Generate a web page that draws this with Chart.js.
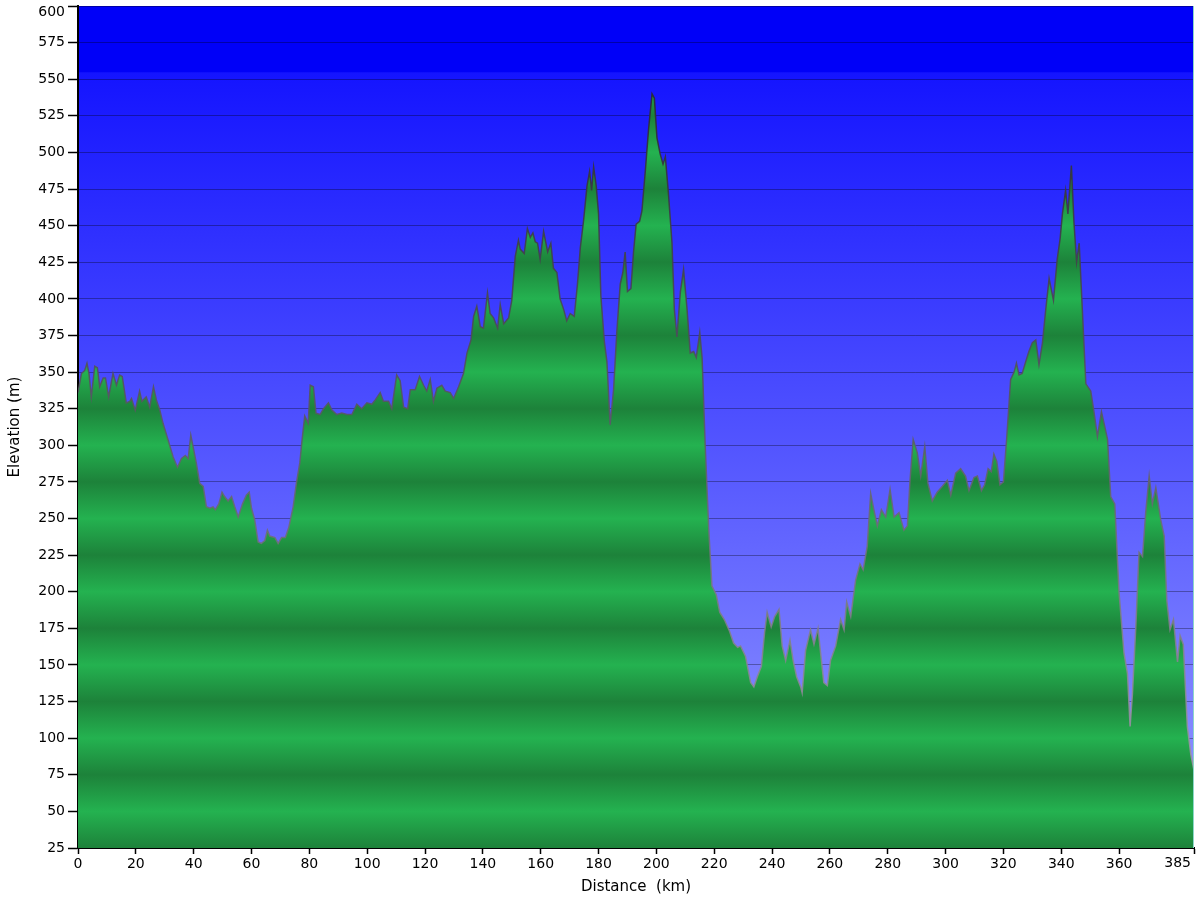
<!DOCTYPE html>
<html>
<head>
<meta charset="utf-8">
<script src="https://cdn.jsdelivr.net/npm/chart.js@4.4.1/dist/chart.umd.min.js"></script>
<style>
  html, body { margin: 0; padding: 0; background: #fff; }
  canvas { display: block; }
</style>
</head>
<body>
<canvas id="profile" width="1200" height="900"></canvas>
<script>
// elevation profile
const distanceKm = [
  0, 1.2, 2.3, 3.1, 3.8, 4.6, 5.8, 6.7, 7.5, 8.7, 9.5, 10.6, 12.1, 13.3, 14.4, 15.3, 16.7, 17.9, 18.5, 19.8,
  21.3, 22.1, 23.6, 24.8, 26.1, 27.1, 28.3, 29.4, 31.1, 32.9, 34.4, 35.8, 37.1, 38.1, 39, 39.8, 40.9, 42.1, 43.3, 44.4,
  45.6, 46.7, 47.5, 48.7, 49.8, 50.7, 51.9, 53.1, 54.2, 55.4, 56.9, 58.2, 59.2, 60, 61.1, 62.3, 63.4, 64.6, 65.5, 66.3,
  68.1, 69.2, 70.4, 71.7, 72.9, 74.4, 75.5, 76.7, 77.5, 78.4, 79.6, 80.3, 81.4, 82.3, 83.7, 84.9, 86.6, 87.8, 89.5, 91.2,
  93, 94.7, 96.4, 98.1, 99.9, 101.6, 102.8, 104.5, 105.6, 107.4, 108.5, 110.2, 111.4, 112.6, 114, 114.9, 116.6, 118.1, 119.5, 120.6,
  121.8, 122.9, 124.1, 125.8, 127, 128.7, 129.9, 131.6, 133.3, 134.5, 135.9, 136.8, 137.9, 139.1, 140.2, 141.6, 142.5, 143.7, 145.1, 146,
  147.2, 148.9, 150, 151.2, 152.3, 152.9, 154.3, 155.4, 156.4, 157.3, 158.1, 158.9, 159.8, 161, 162.4, 163.5, 164.4, 165.6, 166.7, 167.9,
  169, 170.2, 171.6, 172.7, 173.7, 174.8, 176, 176.9, 177.6, 178.3, 179.2, 180, 180.8, 182, 182.9, 184, 185.2, 186.3, 187.5, 188.4,
  189.2, 190, 191.2, 192.1, 193, 194.2, 195, 196.2, 197.3, 198.5, 199.3, 200.2, 201.3, 202.3, 203.1, 204.2, 205.4, 206.2, 207.1, 208.3,
  209.4, 210.6, 211.7, 212.9, 213.8, 215, 215.8, 216.9, 218.1, 219.2, 220.7, 221.9, 223.5, 225.3, 226.7, 228.1, 229.1, 230.8, 232.6, 233.7,
  234.9, 236.3, 237.4, 238.3, 239.7, 240.9, 242.4, 243.5, 244.7, 246.2, 247.3, 248.5, 249.9, 250.4, 251.6, 253.3, 254.5, 255.9, 256.8, 257.9,
  259.1, 260.2, 262, 263.7, 264.9, 265.8, 267.2, 268.9, 270.4, 271.5, 272.9, 274.1, 275.2, 276.4, 277.8, 279.3, 280.8, 282.2, 283.9, 285.6,
  286.8, 287.7, 288.8, 290.2, 291.4, 292.8, 293.9, 295.4, 297.1, 298.9, 300.6, 301.8, 303.5, 305.2, 306.9, 308.1, 309.8, 311, 312.4, 313.5,
  314.7, 315.8, 316.7, 317.7, 318.8, 320, 321.1, 322.5, 323.7, 324.5, 325.4, 326.5, 327.7, 328.8, 330, 331.2, 332.3, 333.5, 334.6, 335.8,
  337.3, 338.6, 339.6, 340.4, 341.5, 342.3, 343.5, 344.4, 345.3, 346.2, 347.3, 348.5, 350.2, 351.3, 352.5, 353.9, 354.8, 356, 357.1, 358.5,
  360, 361.7, 362.9, 363.8, 364.6, 365.8, 366.9, 368.1, 369.2, 370.4, 371.5, 372.7, 374.4, 375.6, 376.5, 377.6, 378.8, 380.2, 381.1, 382.2,
  383.6, 384.8, 385.9
];
const elevationM = [
  336, 349, 351, 356, 349, 333, 354, 353, 340, 346, 346, 333, 349, 341, 348, 347, 329, 330, 332, 324,
  337, 330, 333, 326, 340, 331, 324, 315, 304, 292, 285, 291, 293, 291, 307, 299, 288, 274, 272, 258,
  257, 258, 256, 260, 268, 265, 262, 265, 258, 251, 260, 266, 268, 257, 249, 234, 233, 235, 242, 238,
  237, 233, 237, 237, 244, 258, 274, 288, 304, 320, 315, 341, 340, 322, 321, 325, 329, 324, 321, 322,
  321, 321, 328, 325, 329, 328, 331, 336, 330, 330, 325, 348, 344, 326, 325, 338, 338, 347, 341, 337,
  345, 330, 339, 341, 337, 336, 332, 340, 349, 363, 372, 388, 395, 381, 380, 404, 390, 387, 380, 396,
  383, 387, 399, 429, 440, 434, 431, 448, 442, 445, 439, 438, 427, 446, 432, 438, 421, 418, 400, 393,
  385, 390, 388, 410, 435, 453, 477, 487, 474, 490, 477, 458, 402, 371, 357, 314, 338, 377, 410, 418,
  432, 405, 407, 432, 451, 453, 460, 488, 516, 540, 537, 510, 499, 492, 497, 471, 438, 393, 374, 405,
  420, 393, 363, 364, 360, 377, 360, 299, 243, 204, 198, 186, 181, 173, 165, 162, 163, 156, 138, 135,
  142, 149, 172, 186, 176, 183, 188, 163, 153, 167, 153, 142, 135, 131, 160, 174, 164, 175, 158, 138,
  136, 153, 163, 181, 174, 193, 183, 208, 219, 215, 231, 267, 256, 245, 256, 251, 270, 251, 254, 242,
  245, 276, 304, 295, 279, 299, 274, 262, 268, 272, 276, 266, 281, 284, 279, 269, 278, 279, 269, 273,
  284, 282, 294, 289, 273, 275, 304, 345, 350, 356, 348, 349, 357, 364, 370, 372, 355, 370, 392, 414,
  399, 427, 441, 458, 474, 458, 491, 452, 425, 438, 392, 342, 337, 323, 306, 323, 315, 304, 265, 260,
  199, 158, 144, 108, 130, 177, 227, 224, 254, 279, 260, 271, 249, 238, 194, 174, 181, 152, 170, 164,
  108, 89, 78
];
const xTicks = [0, 20, 40, 60, 80, 100, 120, 140, 160, 180, 200, 220, 240, 260, 280, 300, 320, 340, 360];
const xEnd = 385.9;
const xEndLabel = "385";
const yMin = 25;
const yMax = 600;
const yStep = 25;

const points = distanceKm.map((d, i) => ({ x: d, y: elevationM[i] }));

const FONT = "'DejaVu Sans', Verdana, sans-serif";

// helpers for gradients tied to the y scale
function posOf(v) { return (v - yMin) / (yMax - yMin); }

function greenFill(context) {
  const chart = context.chart;
  const area = chart.chartArea;
  if (!area) return "rgb(34,170,76)";
  const g = chart.ctx.createLinearGradient(0, area.bottom, 0, area.top);
  for (let v = yMin; v <= yMax; v += yStep) {
    const dark = ((v - yMin) / yStep) % 2 === 0;
    g.addColorStop(posOf(v), dark ? "rgb(29,130,58)" : "rgb(36,178,80)");
  }
  return g;
}

function lineStroke(context) {
  const chart = context.chart;
  const area = chart.chartArea;
  if (!area) return "#555";
  const g = chart.ctx.createLinearGradient(0, area.bottom, 0, area.top);
  g.addColorStop(0, "rgba(170,165,180,0.9)");
  g.addColorStop(0.5, "rgba(90,90,100,0.9)");
  g.addColorStop(1, "rgba(30,30,40,0.95)");
  return g;
}

const skyPlugin = {
  id: "sky",
  beforeDraw(chart) {
    const { ctx, chartArea: a } = chart;
    const g = ctx.createLinearGradient(0, a.bottom, 0, a.top);
    const band = posOf(555);
    g.addColorStop(0, "rgb(150,155,255)");
    g.addColorStop(band - 0.001, "rgb(20,20,255)");
    g.addColorStop(band, "rgb(0,0,248)");
    g.addColorStop(1, "rgb(0,0,248)");
    ctx.save();
    ctx.fillStyle = g;
    ctx.fillRect(a.left, a.top, a.right - a.left, a.bottom - a.top);
    ctx.restore();
  },
  afterDraw(chart) {
    const { ctx, chartArea: a } = chart;
    ctx.save();
    ctx.strokeStyle = "rgb(140,215,200)";
    ctx.lineWidth = 1;
    ctx.beginPath();
    ctx.moveTo(a.right - 0.5, a.top);
    ctx.lineTo(a.right - 0.5, a.bottom);
    ctx.stroke();

    // end labels kept inside the canvas, like the original
    ctx.fillStyle = "#000";
    ctx.font = "14px " + FONT;
    ctx.textBaseline = "middle";
    ctx.textAlign = "right";
    ctx.fillText(String(yMax), a.left - 13, a.top + 6);
    ctx.fillText(xEndLabel, a.right - 3, a.bottom + 15);
    ctx.restore();
  }
};

new Chart(document.getElementById("profile"), {
  type: "line",
  data: {
    datasets: [{
      data: points,
      fill: "start",
      backgroundColor: greenFill,
      borderColor: lineStroke,
      borderWidth: 1.5,
      pointRadius: 0,
      tension: 0
    }]
  },
  options: {
    responsive: false,
    devicePixelRatio: 1,
    animation: false,
    layout: { padding: { top: 6, right: 6, left: 0, bottom: 0 } },
    plugins: {
      legend: { display: false },
      tooltip: { enabled: false }
    },
    scales: {
      x: {
        type: "linear",
        min: 0,
        max: xEnd,
        afterBuildTicks: scale => {
          scale.ticks = xTicks.map(v => ({ value: v })).concat([{ value: xEnd }]);
        },
        afterFit: scale => {
          scale.height = 52;
          scale.paddingLeft = 0;
          scale.paddingRight = 0;
        },
        ticks: {
          autoSkip: false,
          maxRotation: 0,
          padding: 2,
          color: "#000",
          font: { family: FONT, size: 14 },
          callback: v => (v === xEnd ? "" : v)
        },
        grid: {
          drawOnChartArea: false,
          drawTicks: true,
          tickLength: 6,
          tickColor: "#000",
          tickWidth: 1.5
        },
        border: { display: true, color: "#000", width: 2 },
        title: {
          display: true,
          text: "Distance  (km)",
          color: "#000",
          font: { family: FONT, size: 15 },
          padding: { top: 4, bottom: 4 }
        }
      },
      y: {
        min: yMin,
        max: yMax,
        z: 1,
        afterFit: scale => {
          scale.width = 78;
          scale.paddingTop = 0;
          scale.paddingBottom = 0;
        },
        ticks: {
          stepSize: yStep,
          padding: 3,
          color: "#000",
          font: { family: FONT, size: 14 },
          callback: v => (v === yMax ? "" : v)
        },
        grid: {
          color: "rgba(0,0,0,0.32)",
          lineWidth: 1,
          tickLength: 10,
          tickColor: "#000",
          tickWidth: 1.5
        },
        border: { display: true, color: "#000", width: 2 },
        title: {
          display: true,
          text: "Elevation (m)",
          color: "#000",
          font: { family: FONT, size: 15 },
          padding: { top: 6, bottom: 4 }
        }
      }
    }
  },
  plugins: [skyPlugin]
});
</script>
</body>
</html>
